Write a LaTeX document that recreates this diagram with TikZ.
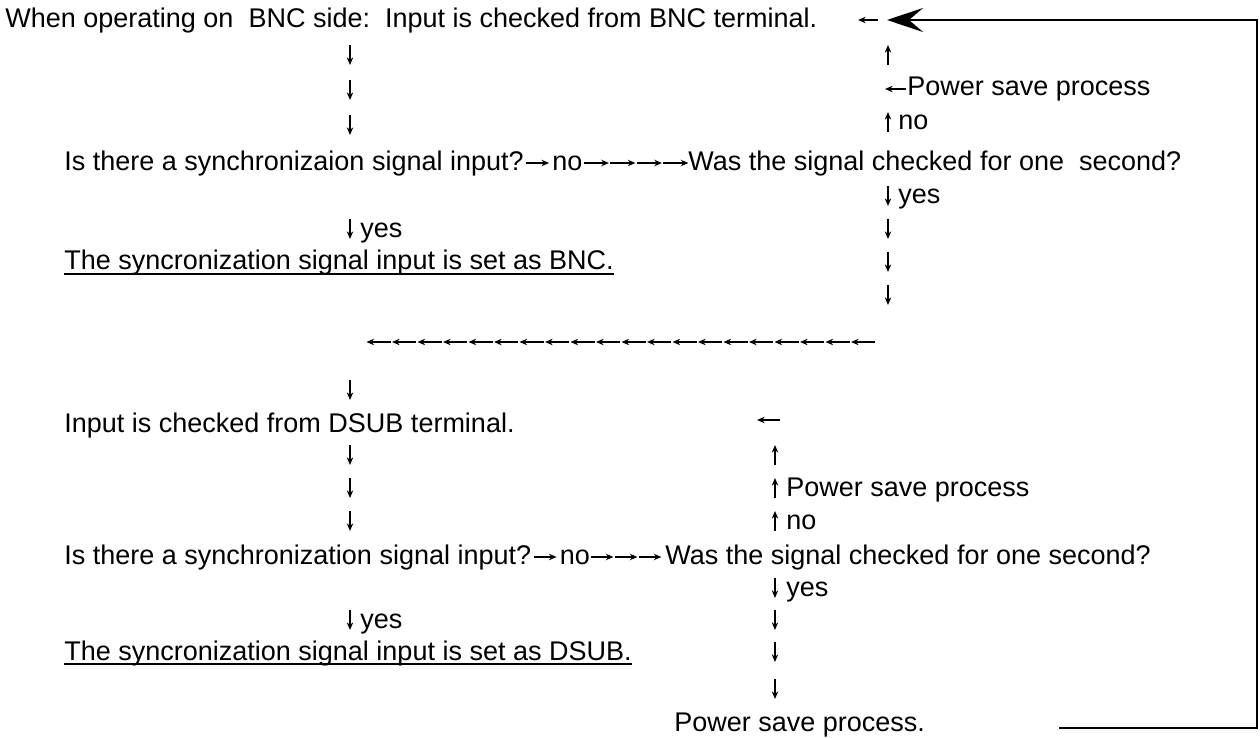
\documentclass[tikz,border=0pt]{standalone}
\usepackage{fontspec}
\setmainfont{Liberation Sans}
\usetikzlibrary{arrows.meta, calc, positioning}

\tikzset{
  txt/.style={inner sep=0pt, anchor=base west, font=\fontsize{13.5}{16}\selectfont},
  tick/.style={-{Stealth[length=3.8pt,width=3.2pt]}, line width=0.75pt},
  frame/.style={line width=1pt},
  uline/.style={line width=0.6pt}
}

\begin{document}
\begin{tikzpicture}[x=0.5pt,y=-0.5pt]
\useasboundingbox (0,0) rectangle (1260,738);

\node[txt] (bncin) at (5,28) {When operating on\ \ BNC side:\ \ Input is checked from BNC terminal.};
\foreach \y in {55,90,125} \draw[tick] (350,\y-10) -- (350,\y+10);
\node[txt] (bncq) at (64,170) {Is there a synchronizaion signal input?};
\node[txt] (bncno) at ([xshift=14pt]bncq.base east) {no};
\draw[tick] ([shift={(2,-7)}]bncq.base east) -- ([shift={(-3,-7)}]bncno.base west);
\node[txt] (bncw) at (688,170) {Was the signal checked for one\ \ second?};
\foreach \i in {0,...,3} \draw[tick] ([shift={(\i*26.5+1,-7)}]bncno.base east) -- ++(25,0);
\draw[tick] (888,65) -- (888,45);
\node[txt] (bncps) at (907,96) {Power save process};
\draw[tick] ([shift={(-1,-7)}]bncps.base west) -- ++(-21,0);
\node[txt] (bncnoup) at (898,130) {no};
\draw[tick] (888,132) -- (888,112);
\node[txt] (bncyes) at (898,204) {yes};
\draw[tick] (888,186) -- (888,206);
\foreach \y in {229,262,295} \draw[tick] (888,\y-10) -- (888,\y+10);
\node[txt] (bncyesleft) at (360,237) {yes};
\draw[tick] (350,219) -- (350,239);
\node[txt] (bncset) at (64,270) {The syncronization signal input is set as BNC.};
\draw[uline] ([yshift=-2pt]bncset.base west) -- ([yshift=-2pt]bncset.base east);

\foreach \i in {0,...,19} \draw[tick] (875-\i*25.5,342) -- ++(-24,0);

\draw[tick] (350,380) -- (350,400);
\node[txt] (dsubin) at (64,432) {Input is checked from DSUB terminal.};
\draw[tick] (780,420) -- (757,420);
\foreach \y in {455,488,521} \draw[tick] (350,\y-10) -- (350,\y+10);
\draw[tick] (775,465) -- (775,445);
\node[txt] (dsubps) at (786,496) {Power save process};
\draw[tick] (775,498) -- (775,478);
\node[txt] (dsubnoup) at (786,529) {no};
\draw[tick] (775,531) -- (775,511);
\node[txt] (dsubq) at (64,564) {Is there a synchronization signal input?};
\node[txt] (dsubno) at ([xshift=14pt]dsubq.base east) {no};
\draw[tick] ([shift={(2,-7)}]dsubq.base east) -- ([shift={(-3,-7)}]dsubno.base west);
\node[txt] (dsubw) at (665,564) {Was the signal checked for one second?};
\foreach \i in {0,1,2} \draw[tick] ([shift={(\i*24+1,-7)}]dsubno.base east) -- ++(22,0);
\node[txt] (dsubyes) at (786,596) {yes};
\draw[tick] (775,578) -- (775,598);
\foreach \y in {620,652,689} \draw[tick] (775,\y-10) -- (775,\y+10);
\node[txt] (dsubyesleft) at (360,628) {yes};
\draw[tick] (350,610) -- (350,630);
\node[txt] (dsubset) at (64,660) {The syncronization signal input is set as DSUB.};
\draw[uline] ([yshift=-2pt]dsubset.base west) -- ([yshift=-2pt]dsubset.base east);
\node[txt] (psave) at (674,731) {Power save process.};

\coordinate (loopin) at (1059,728);
\coordinate (loopout) at (887,20);
\draw[frame, -{Stealth[length=18pt,width=12pt,inset=7pt]}] (loopin) -- (1257,728) -- (1257,20) -- (loopout);
\draw[tick] (878,20) -- (858,20);
\end{tikzpicture}
\end{document}
